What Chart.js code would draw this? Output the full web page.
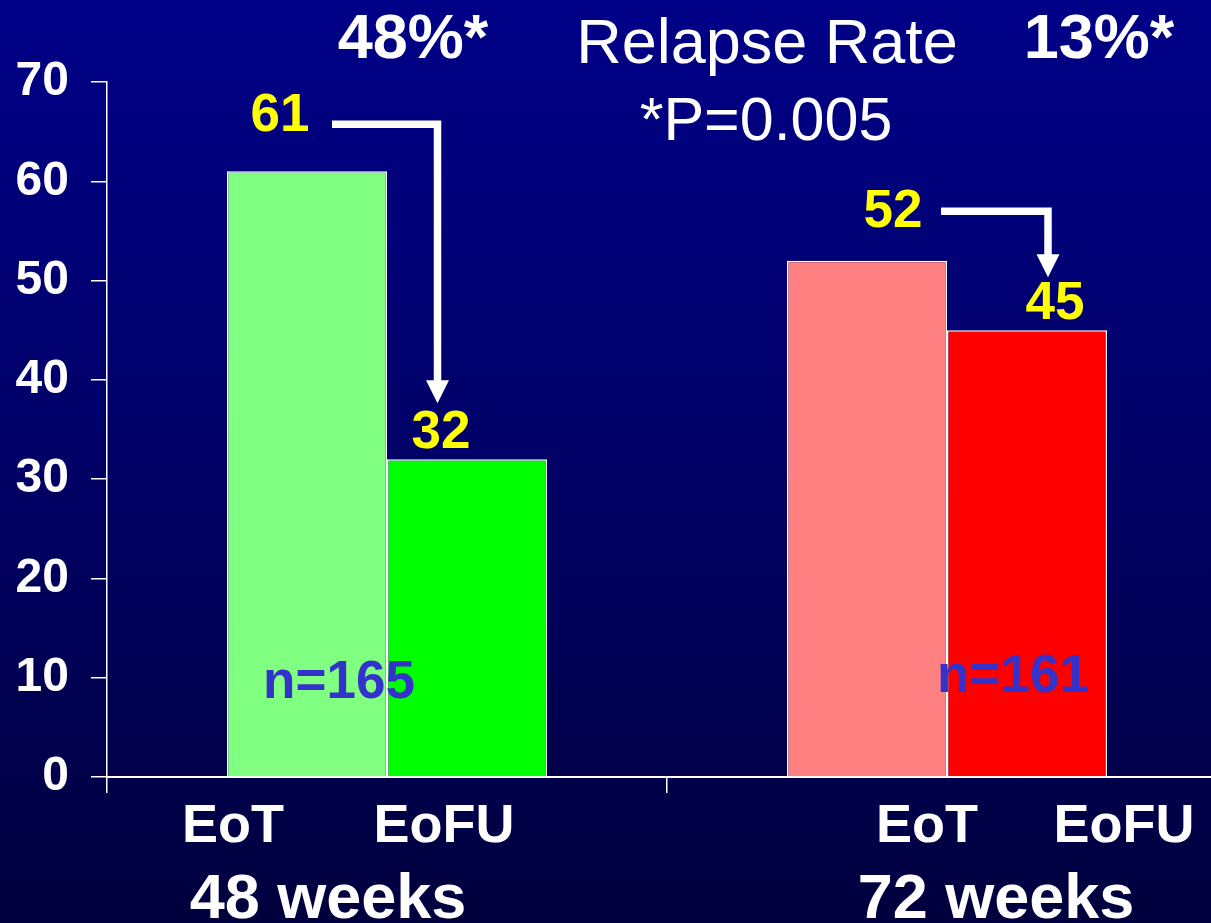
<!DOCTYPE html>
<html>
<head>
<meta charset="utf-8">
<title>Relapse Rate</title>
<script src="https://cdn.jsdelivr.net/npm/chart.js@4/dist/chart.umd.min.js"></script>
<style>
  html, body { margin: 0; padding: 0; overflow: hidden; }
  body {
    width: 1211px; height: 923px;
    background: linear-gradient(to bottom, #000088 0%, #00006a 45%, #00003e 100%);
  }
  canvas { display: block; }
</style>
</head>
<body>
<canvas id="chart" width="1240" height="923"></canvas>
<script>
// Treatment duration groups and the two time points measured in each
const categories = ['48 weeks', '72 weeks'];
const phaseLabels = ['EoT', 'EoFU'];

// Response (%) at end of treatment and end of follow-up
const eotValues = [61, 52];
const eofuValues = [32, 45];

// Group annotations
const cohortSizes = ['n=165', 'n=161'];
const relapseRates = ['48%*', '13%*'];
const pValueText = '*P=0.005';
const headline = 'Relapse Rate';

// Y axis range
const yMin = 0, yMax = 70, yStep = 10;

const FONT = '"Liberation Sans", Arial, sans-serif';

// Hand-placed label offsets (pixels) for each group, relative to the bars
const groupLayout = [
  { eotShift: -74, eofuShift: -23, weeksShift: -59,
    valShift: [[-27, -40], [-26, -11]],
    nShift: -48, nBase: 698,
    arrow: { startFromEotRight: -55, rise: 47, cornerFromEofu: -29.5, tipAbove: 56 } },
  { eotShift: 60, eofuShift: 97, weeksShift: 49,
    valShift: [[26, -34], [28, -11]],
    nShift: 66, nBase: 692,
    arrow: { startFromEotRight: -6, rise: 49.5, cornerFromEofu: 21, tipAbove: 53 } }
];

const annotations = {
  id: 'annotations',
  afterDatasetsDraw(chart) {
    const { ctx } = chart;
    const metaE = chart.getDatasetMeta(0);
    const metaF = chart.getDatasetMeta(1);
    ctx.save();
    ctx.textAlign = 'center';
    ctx.textBaseline = 'alphabetic';

    const put = (str, x, y, font, color) => {
      ctx.font = font;
      ctx.fillStyle = color;
      ctx.fillText(str, x, y);
    };

    categories.forEach((cat, i) => {
      const e = metaE.data[i], f = metaF.data[i];
      const L = groupLayout[i];

      // cohort size over the bars
      put(cohortSizes[i], (e.x + f.x) / 2 + L.nShift, L.nBase, 'bold 53px ' + FONT, '#3333cc');

      // value labels
      put(String(eotValues[i]), e.x + L.valShift[0][0], e.y + L.valShift[0][1], 'bold 53px ' + FONT, '#ffff00');
      put(String(eofuValues[i]), f.x + L.valShift[1][0], f.y + L.valShift[1][1], 'bold 53px ' + FONT, '#ffff00');

      // elbow arrow from EoT value down to EoFU value
      const a = L.arrow;
      const eRight = e.x + e.width / 2;
      const x0 = eRight + a.startFromEotRight;
      const yH = e.y - a.rise;
      const xC = f.x + a.cornerFromEofu;
      const tipY = f.y - a.tipAbove;
      const headH = 23, headW = 23;
      ctx.strokeStyle = '#ffffff';
      ctx.fillStyle = '#ffffff';
      ctx.lineWidth = 7.5;
      ctx.lineJoin = 'miter';
      ctx.lineCap = 'butt';
      ctx.beginPath();
      ctx.moveTo(x0, yH);
      ctx.lineTo(xC, yH);
      ctx.lineTo(xC, tipY - headH + 1);
      ctx.stroke();
      ctx.beginPath();
      ctx.moveTo(xC - headW / 2, tipY - headH);
      ctx.lineTo(xC + headW / 2, tipY - headH);
      ctx.lineTo(xC, tipY);
      ctx.closePath();
      ctx.fill();
    });

    ctx.restore();
  },
  afterDraw(chart) {
    const { ctx, scales: { x } } = chart;
    const metaE = chart.getDatasetMeta(0);
    const metaF = chart.getDatasetMeta(1);
    ctx.save();
    ctx.textAlign = 'center';
    ctx.textBaseline = 'alphabetic';
    ctx.fillStyle = '#ffffff';

    categories.forEach((cat, i) => {
      const e = metaE.data[i], f = metaF.data[i];
      const L = groupLayout[i];
      const cx = x.getPixelForValue(i);
      ctx.font = 'bold 54px ' + FONT;
      ctx.fillText(phaseLabels[0], e.x + L.eotShift, 842);
      ctx.fillText(phaseLabels[1], f.x + L.eofuShift, 842);
      ctx.font = 'bold 63px ' + FONT;
      ctx.fillText(cat, cx + L.weeksShift, 918);
    });

    // heading block
    ctx.font = 'bold 63px ' + FONT;
    ctx.fillText(relapseRates[0], 413, 58);
    ctx.fillText(relapseRates[1], 1099, 58);
    ctx.font = '63px ' + FONT;
    ctx.fillText(headline, 767, 63);
    ctx.font = '61px ' + FONT;
    ctx.fillText(pValueText, 766, 140);
    ctx.restore();
  }
};

new Chart(document.getElementById('chart'), {
  type: 'bar',
  data: {
    labels: categories,
    datasets: [
      {
        label: phaseLabels[0],
        data: eotValues,
        backgroundColor: ['#80ff80', '#ff8080'],
        borderColor: '#ffffff',
        borderWidth: 1.5
      },
      {
        label: phaseLabels[1],
        data: eofuValues,
        backgroundColor: ['#00ff00', '#ff0000'],
        borderColor: '#ffffff',
        borderWidth: 1.5
      }
    ]
  },
  options: {
    responsive: false,
    animation: false,
    devicePixelRatio: 1,
    layout: { padding: { top: 82, right: 13, left: 0, bottom: 0 } },
    plugins: {
      legend: { display: false },
      tooltip: { enabled: false },
      title: { display: false }
    },
    datasets: {
      bar: { categoryPercentage: 320 / 560, barPercentage: 1 }
    },
    scales: {
      x: {
        offset: true,
        ticks: { display: false },
        grid: {
          offset: true,
          drawOnChartArea: false,
          drawTicks: true,
          tickLength: 16,
          color: '#ffffff',
          lineWidth: 1.5
        },
        border: { display: true, color: '#ffffff', width: 2 },
        afterFit(scale) { scale.height = 146; }
      },
      y: {
        min: yMin,
        max: yMax,
        ticks: {
          stepSize: yStep,
          color: '#ffffff',
          font: { family: FONT, size: 48, weight: 'bold' },
          padding: 22
        },
        grid: {
          drawOnChartArea: false,
          drawTicks: true,
          tickLength: 16,
          color: '#ffffff',
          lineWidth: 1.5
        },
        border: { display: true, color: '#ffffff', width: 1.5 },
        afterFit(scale) { scale.width = 107; }
      }
    }
  },
  plugins: [annotations]
});
</script>
</body>
</html>
